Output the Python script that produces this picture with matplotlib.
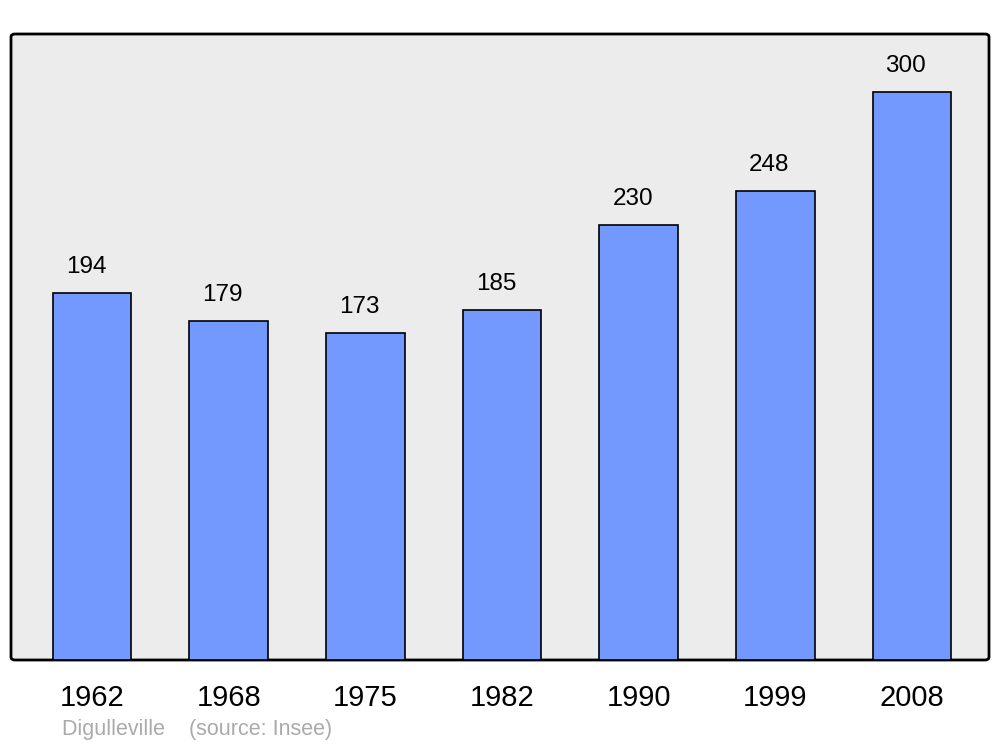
import matplotlib
matplotlib.use("Agg")
import matplotlib.pyplot as plt
from matplotlib.patches import FancyBboxPatch

years = ["1962", "1968", "1975", "1982", "1990", "1999", "2008"]
population = [194, 179, 173, 185, 230, 248, 300]

plt.rcParams['font.family'] = ['Liberation Sans', 'DejaVu Sans']

fig = plt.figure(figsize=(10, 7.47), dpi=100)
W, H = 1000, 747
ax = fig.add_axes([11 / W, 1 - 660 / H, (989 - 11) / W, (660 - 34) / H])
ax.set_facecolor('none')
ax.set_zorder(2)

# fond arrondi
bg = FancyBboxPatch((11 / W, 1 - 660 / H), (989 - 11) / W, (660 - 34) / H,
                    boxstyle="round,pad=0,rounding_size=0.004",
                    transform=fig.transFigure, facecolor='#ececec',
                    edgecolor='black', linewidth=2, zorder=-1)
fig.patches.append(bg)

x = list(range(len(years)))
ax.bar(x, population, width=0.575, color='#7399ff', edgecolor='black',
       linewidth=1.2, zorder=2)
for xi, v in zip(x, population):
    ax.text(xi - 0.045, v + 10.5, str(v), ha='center', va='baseline', fontsize=17.5)

ax.set_xlim(-0.593, 6.563)
ax.set_ylim(0, 330.7)
for s in ax.spines.values():
    s.set_visible(False)
ax.set_yticks([])
ax.set_xticks(x)
ax.set_xticklabels(years, fontsize=21)
ax.tick_params(axis='x', length=0, pad=17)

fig.text(62 / W, 1 - 730 / H, "Digulleville    (source: Insee)", color='#aaaaaa',
         fontsize=15.5, va='center', ha='left')

fig.savefig("out.png", dpi=100)
